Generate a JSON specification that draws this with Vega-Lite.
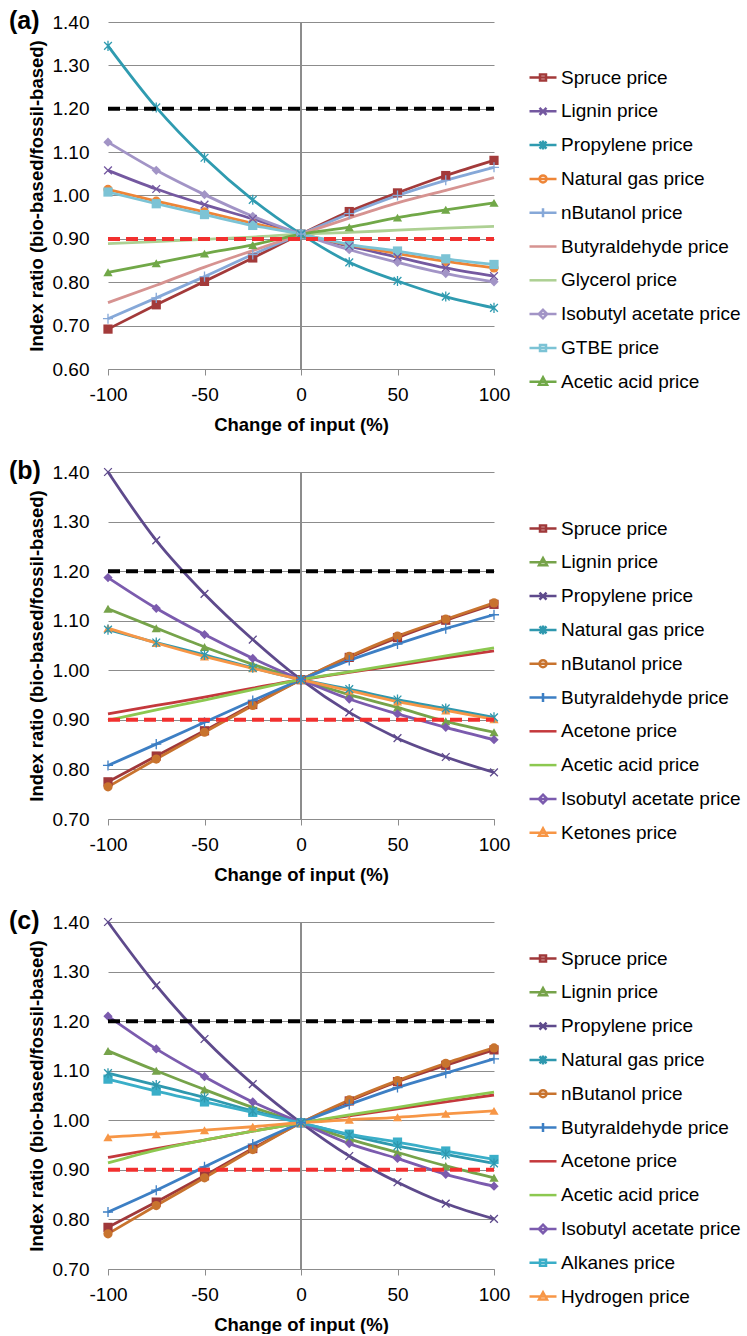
{
  "$schema": "https://vega.github.io/schema/vega-lite/v6.json",
  "padding": {"left": 9, "top": 9, "right": 0, "bottom": 0},
  "background": "white",
  "spacing": 25,
  "config": {
    "font": "Liberation Sans",
    "view": {"stroke": null},
    "axis": {"labelFont": "Liberation Sans", "titleFont": "Liberation Sans", "labelFontSize": 19, "labelColor": "#000000", "titleFontSize": 18.5, "titleFontWeight": "bold", "titleColor": "#000000"},
    "legend": {"labelFont": "Liberation Sans", "labelFontSize": 19, "labelColor": "#000000", "labelLimit": 0, "padding": 0},
    "title": {"font": "Liberation Sans", "fontSize": 25, "fontWeight": "bold", "color": "#000000", "anchor": "start", "frame": "group", "baseline": "middle", "offset": 0, "dx": -99, "dy": 25}
  },
  "datasets": {
    "ref": [
      {"lvl": "hi", "x": -100, "y": 1.2}, {"lvl": "hi", "x": -75, "y": 1.2}, {"lvl": "hi", "x": -50, "y": 1.2}, {"lvl": "hi", "x": -25, "y": 1.2}, {"lvl": "hi", "x": 0, "y": 1.2}, {"lvl": "hi", "x": 25, "y": 1.2}, {"lvl": "hi", "x": 50, "y": 1.2}, {"lvl": "hi", "x": 75, "y": 1.2}, {"lvl": "hi", "x": 100, "y": 1.2},
      {"lvl": "lo", "x": -100, "y": 0.9}, {"lvl": "lo", "x": -75, "y": 0.9}, {"lvl": "lo", "x": -50, "y": 0.9}, {"lvl": "lo", "x": -25, "y": 0.9}, {"lvl": "lo", "x": 0, "y": 0.9}, {"lvl": "lo", "x": 25, "y": 0.9}, {"lvl": "lo", "x": 50, "y": 0.9}, {"lvl": "lo", "x": 75, "y": 0.9}, {"lvl": "lo", "x": 100, "y": 0.9}
    ],
    "a": [
      {"s": "Spruce price", "x": -100, "y": 0.692}, {"s": "Spruce price", "x": -75, "y": 0.748}, {"s": "Spruce price", "x": -50, "y": 0.802}, {"s": "Spruce price", "x": -25, "y": 0.856}, {"s": "Spruce price", "x": 0, "y": 0.911}, {"s": "Spruce price", "x": 25, "y": 0.963}, {"s": "Spruce price", "x": 50, "y": 1.006}, {"s": "Spruce price", "x": 75, "y": 1.046}, {"s": "Spruce price", "x": 100, "y": 1.081},
      {"s": "Lignin price", "x": -100, "y": 1.058}, {"s": "Lignin price", "x": -75, "y": 1.015}, {"s": "Lignin price", "x": -50, "y": 0.979}, {"s": "Lignin price", "x": -25, "y": 0.946}, {"s": "Lignin price", "x": 0, "y": 0.911}, {"s": "Lignin price", "x": 25, "y": 0.883}, {"s": "Lignin price", "x": 50, "y": 0.858}, {"s": "Lignin price", "x": 75, "y": 0.833}, {"s": "Lignin price", "x": 100, "y": 0.814},
      {"s": "Propylene price", "x": -100, "y": 1.345}, {"s": "Propylene price", "x": -75, "y": 1.203}, {"s": "Propylene price", "x": -50, "y": 1.087}, {"s": "Propylene price", "x": -25, "y": 0.99}, {"s": "Propylene price", "x": 0, "y": 0.911}, {"s": "Propylene price", "x": 25, "y": 0.846}, {"s": "Propylene price", "x": 50, "y": 0.803}, {"s": "Propylene price", "x": 75, "y": 0.767}, {"s": "Propylene price", "x": 100, "y": 0.741},
      {"s": "Natural gas price", "x": -100, "y": 1.014}, {"s": "Natural gas price", "x": -75, "y": 0.987}, {"s": "Natural gas price", "x": -50, "y": 0.962}, {"s": "Natural gas price", "x": -25, "y": 0.936}, {"s": "Natural gas price", "x": 0, "y": 0.911}, {"s": "Natural gas price", "x": 25, "y": 0.886}, {"s": "Natural gas price", "x": 50, "y": 0.866}, {"s": "Natural gas price", "x": 75, "y": 0.848}, {"s": "Natural gas price", "x": 100, "y": 0.833},
      {"s": "nButanol price", "x": -100, "y": 0.716}, {"s": "nButanol price", "x": -75, "y": 0.764}, {"s": "nButanol price", "x": -50, "y": 0.813}, {"s": "nButanol price", "x": -25, "y": 0.864}, {"s": "nButanol price", "x": 0, "y": 0.911}, {"s": "nButanol price", "x": 25, "y": 0.958}, {"s": "nButanol price", "x": 50, "y": 1.0}, {"s": "nButanol price", "x": 75, "y": 1.035}, {"s": "nButanol price", "x": 100, "y": 1.065},
      {"s": "Butyraldehyde price", "x": -100, "y": 0.753}, {"s": "Butyraldehyde price", "x": -75, "y": 0.793}, {"s": "Butyraldehyde price", "x": -50, "y": 0.835}, {"s": "Butyraldehyde price", "x": -25, "y": 0.873}, {"s": "Butyraldehyde price", "x": 0, "y": 0.911}, {"s": "Butyraldehyde price", "x": 25, "y": 0.948}, {"s": "Butyraldehyde price", "x": 50, "y": 0.983}, {"s": "Butyraldehyde price", "x": 75, "y": 1.012}, {"s": "Butyraldehyde price", "x": 100, "y": 1.041},
      {"s": "Glycerol price", "x": -100, "y": 0.889}, {"s": "Glycerol price", "x": -75, "y": 0.894}, {"s": "Glycerol price", "x": -50, "y": 0.899}, {"s": "Glycerol price", "x": -25, "y": 0.904}, {"s": "Glycerol price", "x": 0, "y": 0.911}, {"s": "Glycerol price", "x": 25, "y": 0.915}, {"s": "Glycerol price", "x": 50, "y": 0.92}, {"s": "Glycerol price", "x": 75, "y": 0.925}, {"s": "Glycerol price", "x": 100, "y": 0.929},
      {"s": "Isobutyl acetate price", "x": -100, "y": 1.123}, {"s": "Isobutyl acetate price", "x": -75, "y": 1.058}, {"s": "Isobutyl acetate price", "x": -50, "y": 1.002}, {"s": "Isobutyl acetate price", "x": -25, "y": 0.952}, {"s": "Isobutyl acetate price", "x": 0, "y": 0.911}, {"s": "Isobutyl acetate price", "x": 25, "y": 0.875}, {"s": "Isobutyl acetate price", "x": 50, "y": 0.846}, {"s": "Isobutyl acetate price", "x": 75, "y": 0.82}, {"s": "Isobutyl acetate price", "x": 100, "y": 0.801},
      {"s": "GTBE price", "x": -100, "y": 1.008}, {"s": "GTBE price", "x": -75, "y": 0.981}, {"s": "GTBE price", "x": -50, "y": 0.956}, {"s": "GTBE price", "x": -25, "y": 0.931}, {"s": "GTBE price", "x": 0, "y": 0.911}, {"s": "GTBE price", "x": 25, "y": 0.887}, {"s": "GTBE price", "x": 50, "y": 0.872}, {"s": "GTBE price", "x": 75, "y": 0.854}, {"s": "GTBE price", "x": 100, "y": 0.841},
      {"s": "Acetic acid price", "x": -100, "y": 0.823}, {"s": "Acetic acid price", "x": -75, "y": 0.844}, {"s": "Acetic acid price", "x": -50, "y": 0.866}, {"s": "Acetic acid price", "x": -25, "y": 0.886}, {"s": "Acetic acid price", "x": 0, "y": 0.911}, {"s": "Acetic acid price", "x": 25, "y": 0.927}, {"s": "Acetic acid price", "x": 50, "y": 0.949}, {"s": "Acetic acid price", "x": 75, "y": 0.967}, {"s": "Acetic acid price", "x": 100, "y": 0.983}
    ],
    "b": [
      {"s": "Spruce price", "x": -100, "y": 0.775}, {"s": "Spruce price", "x": -75, "y": 0.827}, {"s": "Spruce price", "x": -50, "y": 0.878}, {"s": "Spruce price", "x": -25, "y": 0.931}, {"s": "Spruce price", "x": 0, "y": 0.981}, {"s": "Spruce price", "x": 25, "y": 1.026}, {"s": "Spruce price", "x": 50, "y": 1.066}, {"s": "Spruce price", "x": 75, "y": 1.101}, {"s": "Spruce price", "x": 100, "y": 1.133},
      {"s": "Lignin price", "x": -100, "y": 1.124}, {"s": "Lignin price", "x": -75, "y": 1.085}, {"s": "Lignin price", "x": -50, "y": 1.047}, {"s": "Lignin price", "x": -25, "y": 1.012}, {"s": "Lignin price", "x": 0, "y": 0.981}, {"s": "Lignin price", "x": 25, "y": 0.951}, {"s": "Lignin price", "x": 50, "y": 0.925}, {"s": "Lignin price", "x": 75, "y": 0.897}, {"s": "Lignin price", "x": 100, "y": 0.875},
      {"s": "Propylene price", "x": -100, "y": 1.4}, {"s": "Propylene price", "x": -75, "y": 1.262}, {"s": "Propylene price", "x": -50, "y": 1.154}, {"s": "Propylene price", "x": -25, "y": 1.062}, {"s": "Propylene price", "x": 0, "y": 0.981}, {"s": "Propylene price", "x": 25, "y": 0.915}, {"s": "Propylene price", "x": 50, "y": 0.863}, {"s": "Propylene price", "x": 75, "y": 0.825}, {"s": "Propylene price", "x": 100, "y": 0.794},
      {"s": "Natural gas price", "x": -100, "y": 1.082}, {"s": "Natural gas price", "x": -75, "y": 1.056}, {"s": "Natural gas price", "x": -50, "y": 1.031}, {"s": "Natural gas price", "x": -25, "y": 1.005}, {"s": "Natural gas price", "x": 0, "y": 0.981}, {"s": "Natural gas price", "x": 25, "y": 0.962}, {"s": "Natural gas price", "x": 50, "y": 0.941}, {"s": "Natural gas price", "x": 75, "y": 0.923}, {"s": "Natural gas price", "x": 100, "y": 0.905},
      {"s": "nButanol price", "x": -100, "y": 0.765}, {"s": "nButanol price", "x": -75, "y": 0.821}, {"s": "nButanol price", "x": -50, "y": 0.875}, {"s": "nButanol price", "x": -25, "y": 0.929}, {"s": "nButanol price", "x": 0, "y": 0.981}, {"s": "nButanol price", "x": 25, "y": 1.028}, {"s": "nButanol price", "x": 50, "y": 1.069}, {"s": "nButanol price", "x": 75, "y": 1.103}, {"s": "nButanol price", "x": 100, "y": 1.136},
      {"s": "Butyraldehyde price", "x": -100, "y": 0.808}, {"s": "Butyraldehyde price", "x": -75, "y": 0.851}, {"s": "Butyraldehyde price", "x": -50, "y": 0.895}, {"s": "Butyraldehyde price", "x": -25, "y": 0.939}, {"s": "Butyraldehyde price", "x": 0, "y": 0.981}, {"s": "Butyraldehyde price", "x": 25, "y": 1.02}, {"s": "Butyraldehyde price", "x": 50, "y": 1.053}, {"s": "Butyraldehyde price", "x": 75, "y": 1.084}, {"s": "Butyraldehyde price", "x": 100, "y": 1.112},
      {"s": "Acetone price", "x": -100, "y": 0.912}, {"s": "Acetone price", "x": -75, "y": 0.929}, {"s": "Acetone price", "x": -50, "y": 0.946}, {"s": "Acetone price", "x": -25, "y": 0.964}, {"s": "Acetone price", "x": 0, "y": 0.981}, {"s": "Acetone price", "x": 25, "y": 0.996}, {"s": "Acetone price", "x": 50, "y": 1.01}, {"s": "Acetone price", "x": 75, "y": 1.025}, {"s": "Acetone price", "x": 100, "y": 1.039},
      {"s": "Acetic acid price", "x": -100, "y": 0.899}, {"s": "Acetic acid price", "x": -75, "y": 0.92}, {"s": "Acetic acid price", "x": -50, "y": 0.94}, {"s": "Acetic acid price", "x": -25, "y": 0.961}, {"s": "Acetic acid price", "x": 0, "y": 0.981}, {"s": "Acetic acid price", "x": 25, "y": 0.997}, {"s": "Acetic acid price", "x": 50, "y": 1.013}, {"s": "Acetic acid price", "x": 75, "y": 1.029}, {"s": "Acetic acid price", "x": 100, "y": 1.045},
      {"s": "Isobutyl acetate price", "x": -100, "y": 1.187}, {"s": "Isobutyl acetate price", "x": -75, "y": 1.125}, {"s": "Isobutyl acetate price", "x": -50, "y": 1.072}, {"s": "Isobutyl acetate price", "x": -25, "y": 1.024}, {"s": "Isobutyl acetate price", "x": 0, "y": 0.981}, {"s": "Isobutyl acetate price", "x": 25, "y": 0.942}, {"s": "Isobutyl acetate price", "x": 50, "y": 0.912}, {"s": "Isobutyl acetate price", "x": 75, "y": 0.885}, {"s": "Isobutyl acetate price", "x": 100, "y": 0.86},
      {"s": "Ketones price", "x": -100, "y": 1.085}, {"s": "Ketones price", "x": -75, "y": 1.055}, {"s": "Ketones price", "x": -50, "y": 1.028}, {"s": "Ketones price", "x": -25, "y": 1.004}, {"s": "Ketones price", "x": 0, "y": 0.981}, {"s": "Ketones price", "x": 25, "y": 0.959}, {"s": "Ketones price", "x": 50, "y": 0.937}, {"s": "Ketones price", "x": 75, "y": 0.919}, {"s": "Ketones price", "x": 100, "y": 0.901}
    ],
    "c": [
      {"s": "Spruce price", "x": -100, "y": 0.784}, {"s": "Spruce price", "x": -75, "y": 0.835}, {"s": "Spruce price", "x": -50, "y": 0.888}, {"s": "Spruce price", "x": -25, "y": 0.943}, {"s": "Spruce price", "x": 0, "y": 0.995}, {"s": "Spruce price", "x": 25, "y": 1.039}, {"s": "Spruce price", "x": 50, "y": 1.078}, {"s": "Spruce price", "x": 75, "y": 1.111}, {"s": "Spruce price", "x": 100, "y": 1.142},
      {"s": "Lignin price", "x": -100, "y": 1.14}, {"s": "Lignin price", "x": -75, "y": 1.1}, {"s": "Lignin price", "x": -50, "y": 1.062}, {"s": "Lignin price", "x": -25, "y": 1.026}, {"s": "Lignin price", "x": 0, "y": 0.995}, {"s": "Lignin price", "x": 25, "y": 0.962}, {"s": "Lignin price", "x": 50, "y": 0.935}, {"s": "Lignin price", "x": 75, "y": 0.908}, {"s": "Lignin price", "x": 100, "y": 0.884},
      {"s": "Propylene price", "x": -100, "y": 1.4}, {"s": "Propylene price", "x": -75, "y": 1.272}, {"s": "Propylene price", "x": -50, "y": 1.164}, {"s": "Propylene price", "x": -25, "y": 1.073}, {"s": "Propylene price", "x": 0, "y": 0.995}, {"s": "Propylene price", "x": 25, "y": 0.928}, {"s": "Propylene price", "x": 50, "y": 0.875}, {"s": "Propylene price", "x": 75, "y": 0.832}, {"s": "Propylene price", "x": 100, "y": 0.801},
      {"s": "Natural gas price", "x": -100, "y": 1.095}, {"s": "Natural gas price", "x": -75, "y": 1.071}, {"s": "Natural gas price", "x": -50, "y": 1.046}, {"s": "Natural gas price", "x": -25, "y": 1.019}, {"s": "Natural gas price", "x": 0, "y": 0.995}, {"s": "Natural gas price", "x": 25, "y": 0.97}, {"s": "Natural gas price", "x": 50, "y": 0.948}, {"s": "Natural gas price", "x": 75, "y": 0.931}, {"s": "Natural gas price", "x": 100, "y": 0.913},
      {"s": "nButanol price", "x": -100, "y": 0.771}, {"s": "nButanol price", "x": -75, "y": 0.828}, {"s": "nButanol price", "x": -50, "y": 0.884}, {"s": "nButanol price", "x": -25, "y": 0.941}, {"s": "nButanol price", "x": 0, "y": 0.995}, {"s": "nButanol price", "x": 25, "y": 1.041}, {"s": "nButanol price", "x": 50, "y": 1.08}, {"s": "nButanol price", "x": 75, "y": 1.115}, {"s": "nButanol price", "x": 100, "y": 1.146},
      {"s": "Butyraldehyde price", "x": -100, "y": 0.815}, {"s": "Butyraldehyde price", "x": -75, "y": 0.859}, {"s": "Butyraldehyde price", "x": -50, "y": 0.906}, {"s": "Butyraldehyde price", "x": -25, "y": 0.952}, {"s": "Butyraldehyde price", "x": 0, "y": 0.995}, {"s": "Butyraldehyde price", "x": 25, "y": 1.032}, {"s": "Butyraldehyde price", "x": 50, "y": 1.066}, {"s": "Butyraldehyde price", "x": 75, "y": 1.095}, {"s": "Butyraldehyde price", "x": 100, "y": 1.124},
      {"s": "Acetone price", "x": -100, "y": 0.925}, {"s": "Acetone price", "x": -75, "y": 0.943}, {"s": "Acetone price", "x": -50, "y": 0.96}, {"s": "Acetone price", "x": -25, "y": 0.978}, {"s": "Acetone price", "x": 0, "y": 0.995}, {"s": "Acetone price", "x": 25, "y": 1.009}, {"s": "Acetone price", "x": 50, "y": 1.023}, {"s": "Acetone price", "x": 75, "y": 1.037}, {"s": "Acetone price", "x": 100, "y": 1.051},
      {"s": "Acetic acid price", "x": -100, "y": 0.914}, {"s": "Acetic acid price", "x": -75, "y": 0.94}, {"s": "Acetic acid price", "x": -50, "y": 0.96}, {"s": "Acetic acid price", "x": -25, "y": 0.978}, {"s": "Acetic acid price", "x": 0, "y": 0.995}, {"s": "Acetic acid price", "x": 25, "y": 1.011}, {"s": "Acetic acid price", "x": 50, "y": 1.026}, {"s": "Acetic acid price", "x": 75, "y": 1.042}, {"s": "Acetic acid price", "x": 100, "y": 1.057},
      {"s": "Isobutyl acetate price", "x": -100, "y": 1.21}, {"s": "Isobutyl acetate price", "x": -75, "y": 1.144}, {"s": "Isobutyl acetate price", "x": -50, "y": 1.088}, {"s": "Isobutyl acetate price", "x": -25, "y": 1.037}, {"s": "Isobutyl acetate price", "x": 0, "y": 0.995}, {"s": "Isobutyl acetate price", "x": 25, "y": 0.953}, {"s": "Isobutyl acetate price", "x": 50, "y": 0.923}, {"s": "Isobutyl acetate price", "x": 75, "y": 0.891}, {"s": "Isobutyl acetate price", "x": 100, "y": 0.867},
      {"s": "Alkanes price", "x": -100, "y": 1.083}, {"s": "Alkanes price", "x": -75, "y": 1.059}, {"s": "Alkanes price", "x": -50, "y": 1.037}, {"s": "Alkanes price", "x": -25, "y": 1.016}, {"s": "Alkanes price", "x": 0, "y": 0.995}, {"s": "Alkanes price", "x": 25, "y": 0.972}, {"s": "Alkanes price", "x": 50, "y": 0.956}, {"s": "Alkanes price", "x": 75, "y": 0.938}, {"s": "Alkanes price", "x": 100, "y": 0.921},
      {"s": "Hydrogen price", "x": -100, "y": 0.966}, {"s": "Hydrogen price", "x": -75, "y": 0.972}, {"s": "Hydrogen price", "x": -50, "y": 0.98}, {"s": "Hydrogen price", "x": -25, "y": 0.987}, {"s": "Hydrogen price", "x": 0, "y": 0.995}, {"s": "Hydrogen price", "x": 25, "y": 1.001}, {"s": "Hydrogen price", "x": 50, "y": 1.006}, {"s": "Hydrogen price", "x": 75, "y": 1.013}, {"s": "Hydrogen price", "x": 100, "y": 1.019}
    ]
  },
  "resolve": {"scale": {"x": "independent", "y": "independent", "color": "independent", "shape": "independent", "fill": "independent", "stroke": "independent"}},
  "vconcat": [
    {
      "width": 386, "height": 347,
      "title": {"text": "(a)"},
      "data": {"name": "a"},
      "resolve": {"scale": {"color": "independent", "shape": "independent", "fill": "independent", "stroke": "independent"}},
      "layer": [
        {"mark": {"type": "rule", "color": "#8C8C8C", "strokeWidth": 1}, "encoding": {"x": {"datum": 0, "type": "quantitative"}}},
        {
          "mark": {"type": "line", "strokeWidth": 2.8, "interpolate": "monotone"},
          "encoding": {
            "x": {"field": "x", "type": "quantitative", "scale": {"domain": [-100, 100], "nice": false}, "axis": {"values": [-100, -50, 0, 50, 100], "labelFlush": false, "labelExpr": "replace(datum.label, '\u2212', '-')", "grid": false, "tickSize": 6, "tickColor": "#8C8C8C", "domainColor": "#8C8C8C", "labelPadding": 10, "titlePadding": 11, "title": "Change of input (%)"}},
            "y": {"field": "y", "type": "quantitative", "scale": {"domain": [0.6, 1.4], "nice": false, "zero": false}, "axis": {"values": [0.6, 0.7, 0.8, 0.9, 1.0, 1.1, 1.2, 1.3, 1.4], "format": ".2f", "grid": true, "gridColor": "#8C8C8C", "domain": false, "ticks": false, "labelPadding": 19, "titlePadding": 5.5, "title": "Index ratio (bio-based/fossil-based)"}},
            "color": {"field": "s", "type": "nominal", "legend": null, "scale": {"domain": ["Spruce price", "Lignin price", "Propylene price", "Natural gas price", "nButanol price", "Butyraldehyde price", "Glycerol price", "Isobutyl acetate price", "GTBE price", "Acetic acid price"], "range": ["#A33A3A", "#7458A0", "#2F9BB0", "#EE8537", "#86A8D8", "#D69391", "#ADD093", "#A294C6", "#7CC3D5", "#71A848"]}}
          }
        },
        {
          "transform": [{"filter": {"field": "s", "oneOf": ["Spruce price", "Natural gas price", "Isobutyl acetate price", "GTBE price", "Acetic acid price"]}}],
          "mark": {"type": "point", "filled": true, "opacity": 1, "size": 85},
          "encoding": {
            "x": {"field": "x", "type": "quantitative"}, "y": {"field": "y", "type": "quantitative"},
            "color": {"field": "s", "type": "nominal", "legend": null, "scale": {"domain": ["Spruce price", "Natural gas price", "Isobutyl acetate price", "GTBE price", "Acetic acid price"], "range": ["#A33A3A", "#EE8537", "#A294C6", "#7CC3D5", "#71A848"]}},
            "shape": {"field": "s", "type": "nominal", "legend": null, "scale": {"domain": ["Spruce price", "Natural gas price", "Isobutyl acetate price", "GTBE price", "Acetic acid price"], "range": ["square", "circle", "diamond", "square", "triangle-up"]}}
          }
        },
        {
          "transform": [{"filter": {"field": "s", "oneOf": ["Lignin price", "Propylene price", "nButanol price"]}}],
          "mark": {"type": "point", "filled": false, "opacity": 1, "size": 60, "strokeWidth": 1.3},
          "encoding": {
            "x": {"field": "x", "type": "quantitative"}, "y": {"field": "y", "type": "quantitative"},
            "color": {"field": "s", "type": "nominal", "legend": null, "scale": {"domain": ["Lignin price", "Propylene price", "nButanol price"], "range": ["#7458A0", "#2F9BB0", "#86A8D8"]}},
            "shape": {"field": "s", "type": "nominal", "legend": null, "scale": {"domain": ["Lignin price", "Propylene price", "nButanol price"], "range": ["M-1,-1L1,1M-1,1L1,-1", "M-1,-1L1,1M-1,1L1,-1M0,-1.3V1.3", "M-1.3,0H1.3M0,-1.3V1.3"]}}
          }
        },
        {
          "data": {"name": "ref"},
          "mark": {"type": "line", "strokeWidth": 4, "strokeDash": [12, 6]},
          "encoding": {
            "x": {"field": "x", "type": "quantitative"}, "y": {"field": "y", "type": "quantitative"},
            "color": {"field": "lvl", "type": "nominal", "legend": null, "scale": {"domain": ["hi", "lo"], "range": ["#000000", "#F2302F"]}}
          }
        },
        {
          "mark": {"type": "point", "filled": true, "opacity": 0},
          "encoding": {
            "x": {"field": "x", "type": "quantitative"}, "y": {"field": "y", "type": "quantitative"},
            "fill": {"field": "s", "type": "nominal", "scale": {"domain": ["Spruce price", "Lignin price", "Propylene price", "Natural gas price", "nButanol price", "Butyraldehyde price", "Glycerol price", "Isobutyl acetate price", "GTBE price", "Acetic acid price"], "range": ["#A33A3A", "#7458A0", "#2F9BB0", "#EE8537", "#86A8D8", "#D69391", "#ADD093", "#A294C6", "#7CC3D5", "#71A848"]},
              "legend": {"title": null, "orient": "none", "legendX": 425.5, "legendY": 46, "symbolSize": 100, "symbolStrokeWidth": 2.5, "symbolOpacity": 1, "labelOffset": 8.5, "rowPadding": 13.8, "labelFontSize": 19}},
            "stroke": {"field": "s", "type": "nominal", "scale": {"domain": ["Spruce price", "Lignin price", "Propylene price", "Natural gas price", "nButanol price", "Butyraldehyde price", "Glycerol price", "Isobutyl acetate price", "GTBE price", "Acetic acid price"], "range": ["#A33A3A", "#7458A0", "#2F9BB0", "#EE8537", "#86A8D8", "#D69391", "#ADD093", "#A294C6", "#7CC3D5", "#71A848"]}},
            "shape": {"field": "s", "type": "nominal", "scale": {"domain": ["Spruce price", "Lignin price", "Propylene price", "Natural gas price", "nButanol price", "Butyraldehyde price", "Glycerol price", "Isobutyl acetate price", "GTBE price", "Acetic acid price"], "range": ["M-2.7,0H2.7M-0.6,-0.6H0.6V0.6H-0.6Z", "M-2.7,0H2.7M-0.7,-0.7L0.7,0.7M-0.7,0.7L0.7,-0.7", "M-2.7,0H2.7M-0.7,-0.7L0.7,0.7M-0.7,0.7L0.7,-0.7M0,-0.9V0.9", "M-2.7,0H2.7M-0.7,0A0.7,0.7 0 1,0 0.7,0A0.7,0.7 0 1,0 -0.7,0Z", "M-2.7,0H2.7M0,-0.9V0.9", "M-2.7,0H2.7", "M-2.7,0H2.7", "M-2.7,0H2.7M0,-0.85L0.85,0L0,0.85L-0.85,0Z", "M-2.7,0H2.7M-0.6,-0.6H0.6V0.6H-0.6Z", "M-2.7,0H2.7M0,-0.85L0.8,0.6L-0.8,0.6Z"]}}
          }
        }
      ]
    },
    {
      "width": 386, "height": 347,
      "title": {"text": "(b)"},
      "data": {"name": "b"},
      "resolve": {"scale": {"color": "independent", "shape": "independent", "fill": "independent", "stroke": "independent"}},
      "layer": [
        {"mark": {"type": "rule", "color": "#8C8C8C", "strokeWidth": 1}, "encoding": {"x": {"datum": 0, "type": "quantitative"}}},
        {
          "mark": {"type": "line", "strokeWidth": 2.8, "interpolate": "monotone"},
          "encoding": {
            "x": {"field": "x", "type": "quantitative", "scale": {"domain": [-100, 100], "nice": false}, "axis": {"values": [-100, -50, 0, 50, 100], "labelFlush": false, "labelExpr": "replace(datum.label, '\u2212', '-')", "grid": false, "tickSize": 6, "tickColor": "#8C8C8C", "domainColor": "#8C8C8C", "labelPadding": 10, "titlePadding": 11, "title": "Change of input (%)"}},
            "y": {"field": "y", "type": "quantitative", "scale": {"domain": [0.7, 1.4], "nice": false, "zero": false}, "axis": {"values": [0.7, 0.8, 0.9, 1.0, 1.1, 1.2, 1.3, 1.4], "format": ".2f", "grid": true, "gridColor": "#8C8C8C", "domain": false, "ticks": false, "labelPadding": 19, "titlePadding": 5.5, "title": "Index ratio (bio-based/fossil-based)"}},
            "color": {"field": "s", "type": "nominal", "legend": null, "scale": {"domain": ["Spruce price", "Lignin price", "Propylene price", "Natural gas price", "nButanol price", "Butyraldehyde price", "Acetone price", "Acetic acid price", "Isobutyl acetate price", "Ketones price"], "range": ["#A0383A", "#76A34A", "#5E4A8C", "#2F98AE", "#C8732E", "#3D7FC4", "#C4383C", "#8CC850", "#7B5BAE", "#F79646"]}}
          }
        },
        {
          "transform": [{"filter": {"field": "s", "oneOf": ["Spruce price", "Lignin price", "nButanol price", "Isobutyl acetate price", "Ketones price"]}}],
          "mark": {"type": "point", "filled": true, "opacity": 1, "size": 85},
          "encoding": {
            "x": {"field": "x", "type": "quantitative"}, "y": {"field": "y", "type": "quantitative"},
            "color": {"field": "s", "type": "nominal", "legend": null, "scale": {"domain": ["Spruce price", "Lignin price", "nButanol price", "Isobutyl acetate price", "Ketones price"], "range": ["#A0383A", "#76A34A", "#C8732E", "#7B5BAE", "#F79646"]}},
            "shape": {"field": "s", "type": "nominal", "legend": null, "scale": {"domain": ["Spruce price", "Lignin price", "nButanol price", "Isobutyl acetate price", "Ketones price"], "range": ["square", "triangle-up", "circle", "diamond", "triangle-up"]}}
          }
        },
        {
          "transform": [{"filter": {"field": "s", "oneOf": ["Propylene price", "Natural gas price", "Butyraldehyde price"]}}],
          "mark": {"type": "point", "filled": false, "opacity": 1, "size": 60, "strokeWidth": 1.3},
          "encoding": {
            "x": {"field": "x", "type": "quantitative"}, "y": {"field": "y", "type": "quantitative"},
            "color": {"field": "s", "type": "nominal", "legend": null, "scale": {"domain": ["Propylene price", "Natural gas price", "Butyraldehyde price"], "range": ["#5E4A8C", "#2F98AE", "#3D7FC4"]}},
            "shape": {"field": "s", "type": "nominal", "legend": null, "scale": {"domain": ["Propylene price", "Natural gas price", "Butyraldehyde price"], "range": ["M-1,-1L1,1M-1,1L1,-1", "M-1,-1L1,1M-1,1L1,-1M0,-1.3V1.3", "M-1.3,0H1.3M0,-1.3V1.3"]}}
          }
        },
        {
          "data": {"name": "ref"},
          "mark": {"type": "line", "strokeWidth": 4, "strokeDash": [12, 6]},
          "encoding": {
            "x": {"field": "x", "type": "quantitative"}, "y": {"field": "y", "type": "quantitative"},
            "color": {"field": "lvl", "type": "nominal", "legend": null, "scale": {"domain": ["hi", "lo"], "range": ["#000000", "#F2302F"]}}
          }
        },
        {
          "mark": {"type": "point", "filled": true, "opacity": 0},
          "encoding": {
            "x": {"field": "x", "type": "quantitative"}, "y": {"field": "y", "type": "quantitative"},
            "fill": {"field": "s", "type": "nominal", "scale": {"domain": ["Spruce price", "Lignin price", "Propylene price", "Natural gas price", "nButanol price", "Butyraldehyde price", "Acetone price", "Acetic acid price", "Isobutyl acetate price", "Ketones price"], "range": ["#A0383A", "#76A34A", "#5E4A8C", "#2F98AE", "#C8732E", "#3D7FC4", "#C4383C", "#8CC850", "#7B5BAE", "#F79646"]},
              "legend": {"title": null, "orient": "none", "legendX": 425.5, "legendY": 47, "symbolSize": 100, "symbolStrokeWidth": 2.5, "symbolOpacity": 1, "labelOffset": 8.5, "rowPadding": 13.8, "labelFontSize": 19}},
            "stroke": {"field": "s", "type": "nominal", "scale": {"domain": ["Spruce price", "Lignin price", "Propylene price", "Natural gas price", "nButanol price", "Butyraldehyde price", "Acetone price", "Acetic acid price", "Isobutyl acetate price", "Ketones price"], "range": ["#A0383A", "#76A34A", "#5E4A8C", "#2F98AE", "#C8732E", "#3D7FC4", "#C4383C", "#8CC850", "#7B5BAE", "#F79646"]}},
            "shape": {"field": "s", "type": "nominal", "scale": {"domain": ["Spruce price", "Lignin price", "Propylene price", "Natural gas price", "nButanol price", "Butyraldehyde price", "Acetone price", "Acetic acid price", "Isobutyl acetate price", "Ketones price"], "range": ["M-2.7,0H2.7M-0.6,-0.6H0.6V0.6H-0.6Z", "M-2.7,0H2.7M0,-0.85L0.8,0.6L-0.8,0.6Z", "M-2.7,0H2.7M-0.7,-0.7L0.7,0.7M-0.7,0.7L0.7,-0.7", "M-2.7,0H2.7M-0.7,-0.7L0.7,0.7M-0.7,0.7L0.7,-0.7M0,-0.9V0.9", "M-2.7,0H2.7M-0.7,0A0.7,0.7 0 1,0 0.7,0A0.7,0.7 0 1,0 -0.7,0Z", "M-2.7,0H2.7M0,-0.9V0.9", "M-2.7,0H2.7", "M-2.7,0H2.7", "M-2.7,0H2.7M0,-0.85L0.85,0L0,0.85L-0.85,0Z", "M-2.7,0H2.7M0,-0.85L0.8,0.6L-0.8,0.6Z"]}}
          }
        }
      ]
    },
    {
      "width": 386, "height": 347,
      "title": {"text": "(c)"},
      "data": {"name": "c"},
      "resolve": {"scale": {"color": "independent", "shape": "independent", "fill": "independent", "stroke": "independent"}},
      "layer": [
        {"mark": {"type": "rule", "color": "#8C8C8C", "strokeWidth": 1}, "encoding": {"x": {"datum": 0, "type": "quantitative"}}},
        {
          "mark": {"type": "line", "strokeWidth": 2.8, "interpolate": "monotone"},
          "encoding": {
            "x": {"field": "x", "type": "quantitative", "scale": {"domain": [-100, 100], "nice": false}, "axis": {"values": [-100, -50, 0, 50, 100], "labelFlush": false, "labelExpr": "replace(datum.label, '\u2212', '-')", "grid": false, "tickSize": 6, "tickColor": "#8C8C8C", "domainColor": "#8C8C8C", "labelPadding": 10, "titlePadding": 11, "title": "Change of input (%)"}},
            "y": {"field": "y", "type": "quantitative", "scale": {"domain": [0.7, 1.4], "nice": false, "zero": false}, "axis": {"values": [0.7, 0.8, 0.9, 1.0, 1.1, 1.2, 1.3, 1.4], "format": ".2f", "grid": true, "gridColor": "#8C8C8C", "domain": false, "ticks": false, "labelPadding": 19, "titlePadding": 5.5, "title": "Index ratio (bio-based/fossil-based)"}},
            "color": {"field": "s", "type": "nominal", "legend": null, "scale": {"domain": ["Spruce price", "Lignin price", "Propylene price", "Natural gas price", "nButanol price", "Butyraldehyde price", "Acetone price", "Acetic acid price", "Isobutyl acetate price", "Alkanes price", "Hydrogen price"], "range": ["#A0383A", "#76A34A", "#5E4A8C", "#2F98AE", "#C8732E", "#3D7FC4", "#C4383C", "#8CC850", "#7B5BAE", "#3AAEC8", "#F79646"]}}
          }
        },
        {
          "transform": [{"filter": {"field": "s", "oneOf": ["Spruce price", "Lignin price", "nButanol price", "Isobutyl acetate price", "Alkanes price", "Hydrogen price"]}}],
          "mark": {"type": "point", "filled": true, "opacity": 1, "size": 85},
          "encoding": {
            "x": {"field": "x", "type": "quantitative"}, "y": {"field": "y", "type": "quantitative"},
            "color": {"field": "s", "type": "nominal", "legend": null, "scale": {"domain": ["Spruce price", "Lignin price", "nButanol price", "Isobutyl acetate price", "Alkanes price", "Hydrogen price"], "range": ["#A0383A", "#76A34A", "#C8732E", "#7B5BAE", "#3AAEC8", "#F79646"]}},
            "shape": {"field": "s", "type": "nominal", "legend": null, "scale": {"domain": ["Spruce price", "Lignin price", "nButanol price", "Isobutyl acetate price", "Alkanes price", "Hydrogen price"], "range": ["square", "triangle-up", "circle", "diamond", "square", "triangle-up"]}}
          }
        },
        {
          "transform": [{"filter": {"field": "s", "oneOf": ["Propylene price", "Natural gas price", "Butyraldehyde price"]}}],
          "mark": {"type": "point", "filled": false, "opacity": 1, "size": 60, "strokeWidth": 1.3},
          "encoding": {
            "x": {"field": "x", "type": "quantitative"}, "y": {"field": "y", "type": "quantitative"},
            "color": {"field": "s", "type": "nominal", "legend": null, "scale": {"domain": ["Propylene price", "Natural gas price", "Butyraldehyde price"], "range": ["#5E4A8C", "#2F98AE", "#3D7FC4"]}},
            "shape": {"field": "s", "type": "nominal", "legend": null, "scale": {"domain": ["Propylene price", "Natural gas price", "Butyraldehyde price"], "range": ["M-1,-1L1,1M-1,1L1,-1", "M-1,-1L1,1M-1,1L1,-1M0,-1.3V1.3", "M-1.3,0H1.3M0,-1.3V1.3"]}}
          }
        },
        {
          "data": {"name": "ref"},
          "mark": {"type": "line", "strokeWidth": 4, "strokeDash": [12, 6]},
          "encoding": {
            "x": {"field": "x", "type": "quantitative"}, "y": {"field": "y", "type": "quantitative"},
            "color": {"field": "lvl", "type": "nominal", "legend": null, "scale": {"domain": ["hi", "lo"], "range": ["#000000", "#F2302F"]}}
          }
        },
        {
          "mark": {"type": "point", "filled": true, "opacity": 0},
          "encoding": {
            "x": {"field": "x", "type": "quantitative"}, "y": {"field": "y", "type": "quantitative"},
            "fill": {"field": "s", "type": "nominal", "scale": {"domain": ["Spruce price", "Lignin price", "Propylene price", "Natural gas price", "nButanol price", "Butyraldehyde price", "Acetone price", "Acetic acid price", "Isobutyl acetate price", "Alkanes price", "Hydrogen price"], "range": ["#A0383A", "#76A34A", "#5E4A8C", "#2F98AE", "#C8732E", "#3D7FC4", "#C4383C", "#8CC850", "#7B5BAE", "#3AAEC8", "#F79646"]},
              "legend": {"title": null, "orient": "none", "legendX": 425.5, "legendY": 27, "symbolSize": 100, "symbolStrokeWidth": 2.5, "symbolOpacity": 1, "labelOffset": 8.5, "rowPadding": 13.8, "labelFontSize": 19}},
            "stroke": {"field": "s", "type": "nominal", "scale": {"domain": ["Spruce price", "Lignin price", "Propylene price", "Natural gas price", "nButanol price", "Butyraldehyde price", "Acetone price", "Acetic acid price", "Isobutyl acetate price", "Alkanes price", "Hydrogen price"], "range": ["#A0383A", "#76A34A", "#5E4A8C", "#2F98AE", "#C8732E", "#3D7FC4", "#C4383C", "#8CC850", "#7B5BAE", "#3AAEC8", "#F79646"]}},
            "shape": {"field": "s", "type": "nominal", "scale": {"domain": ["Spruce price", "Lignin price", "Propylene price", "Natural gas price", "nButanol price", "Butyraldehyde price", "Acetone price", "Acetic acid price", "Isobutyl acetate price", "Alkanes price", "Hydrogen price"], "range": ["M-2.7,0H2.7M-0.6,-0.6H0.6V0.6H-0.6Z", "M-2.7,0H2.7M0,-0.85L0.8,0.6L-0.8,0.6Z", "M-2.7,0H2.7M-0.7,-0.7L0.7,0.7M-0.7,0.7L0.7,-0.7", "M-2.7,0H2.7M-0.7,-0.7L0.7,0.7M-0.7,0.7L0.7,-0.7M0,-0.9V0.9", "M-2.7,0H2.7M-0.7,0A0.7,0.7 0 1,0 0.7,0A0.7,0.7 0 1,0 -0.7,0Z", "M-2.7,0H2.7M0,-0.9V0.9", "M-2.7,0H2.7", "M-2.7,0H2.7", "M-2.7,0H2.7M0,-0.85L0.85,0L0,0.85L-0.85,0Z", "M-2.7,0H2.7M-0.6,-0.6H0.6V0.6H-0.6Z", "M-2.7,0H2.7M0,-0.85L0.8,0.6L-0.8,0.6Z"]}}
          }
        }
      ]
    }
  ]
}
